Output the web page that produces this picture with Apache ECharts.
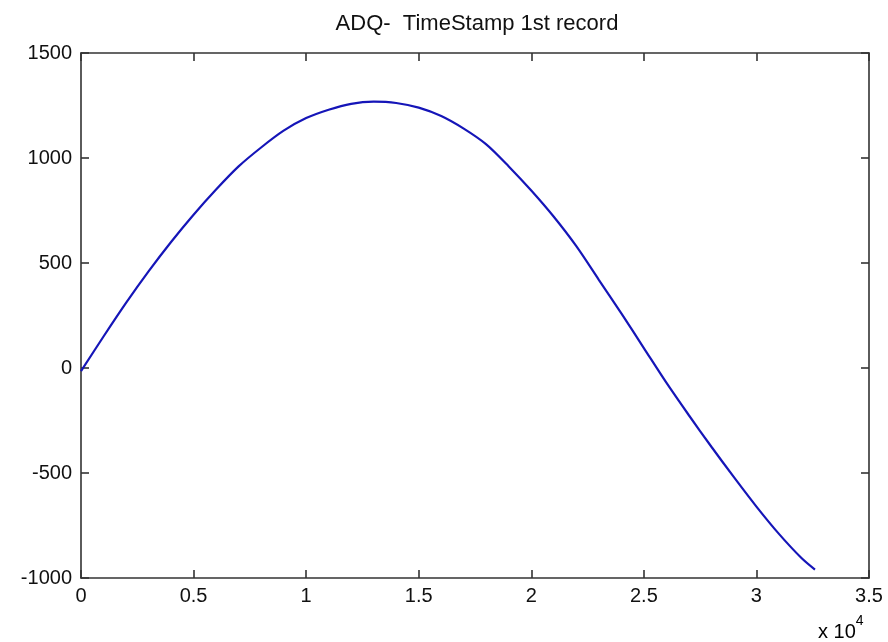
<!DOCTYPE html>
<html>
<head>
<meta charset="utf-8">
<script src="https://cdn.jsdelivr.net/npm/echarts@6/dist/echarts.min.js"></script>
<style>
  html, body { margin: 0; padding: 0; background: #fff; }
  #main { width: 888px; height: 642px; }
</style>
</head>
<body>
<div id="main"></div>
<script>
// x in units of 1e4 samples, y = timestamp value
var xValues = [0, 0.1, 0.2, 0.3, 0.4, 0.5, 0.6, 0.7, 0.8, 0.9, 1.0, 1.1, 1.2, 1.3, 1.4, 1.5, 1.6,
  1.7, 1.8, 1.9, 2.0, 2.1, 2.2, 2.3, 2.4, 2.5, 2.6, 2.7, 2.8, 2.9, 3.0, 3.1, 3.2, 3.26];
var yValues = [-15, 150, 310, 460, 600, 730, 850, 960, 1050, 1130, 1190, 1230, 1258, 1268, 1262, 1240, 1200,
  1140, 1065, 960, 845, 720, 580, 420, 260, 95, -70, -225, -375, -520, -660, -790, -905, -960];
var xTicks = [0, 0.5, 1, 1.5, 2, 2.5, 3, 3.5];
var yTicks = [-1000, -500, 0, 500, 1000, 1500];

var chartDom = document.getElementById("main");
var myChart = echarts.init(chartDom);
var font = "Liberation Sans, Arial, sans-serif";
var axisLine = { show: true, onZero: false, lineStyle: { color: "#333", width: 1.6 } };
var tickIn = { show: true, inside: true, length: 8, lineStyle: { color: "#333", width: 1.6 } };
var labelStyle = { fontFamily: font, fontSize: 20, color: "#111" };

var data = xValues.map(function (x, i) { return [x, yValues[i]]; });

function xAxisDef(pos, showLabel) {
    return {
        type: "value",
        min: xTicks[0],
        max: xTicks[xTicks.length - 1],
        interval: 0.5,
        position: pos,
        axisLine: axisLine,
        axisTick: tickIn,
        splitLine: { show: false },
        axisLabel: Object.assign({ show: showLabel, margin: 8, formatter: function (v) { return String(v); } }, labelStyle)
    };
}
function yAxisDef(pos, showLabel) {
    return {
        type: "value",
        min: yTicks[0],
        max: yTicks[yTicks.length - 1],
        interval: 500,
        position: pos,
        axisLine: axisLine,
        axisTick: tickIn,
        splitLine: { show: false },
        axisLabel: Object.assign({ show: showLabel, margin: 9, formatter: function (v) { return String(v); } }, labelStyle)
    };
}

var option = {
    animation: false,
    backgroundColor: "#fff",
    title: {
        text: "ADQ-  TimeStamp 1st record",
        left: 472,
        textAlign: "center",
        top: 8,
        textStyle: { fontFamily: font, fontSize: 22, fontWeight: "normal", color: "#111" }
    },
    grid: { left: 81, right: 19, top: 53, bottom: 64 },
    xAxis: [xAxisDef("bottom", true), xAxisDef("top", false)],
    yAxis: [yAxisDef("left", true), yAxisDef("right", false)],
    graphic: [
        {
            type: "text",
            left: 818,
            top: 614,
            style: {
                text: "{b|x 10}{s|4}",
                rich: {
                    b: { fontFamily: font, fontSize: 20, color: "#111", verticalAlign: "bottom", padding: [8, 0, 0, 0] },
                    s: { fontFamily: font, fontSize: 14, color: "#111", verticalAlign: "top" }
                }
            }
        }
    ],
    series: [
        {
            type: "line",
            data: data,
            showSymbol: false,
            smooth: 0.3,
            lineStyle: { color: "#1515b8", width: 2.2 },
            itemStyle: { color: "#1515b8" }
        }
    ]
};
option && myChart.setOption(option);
</script>
</body>
</html>
